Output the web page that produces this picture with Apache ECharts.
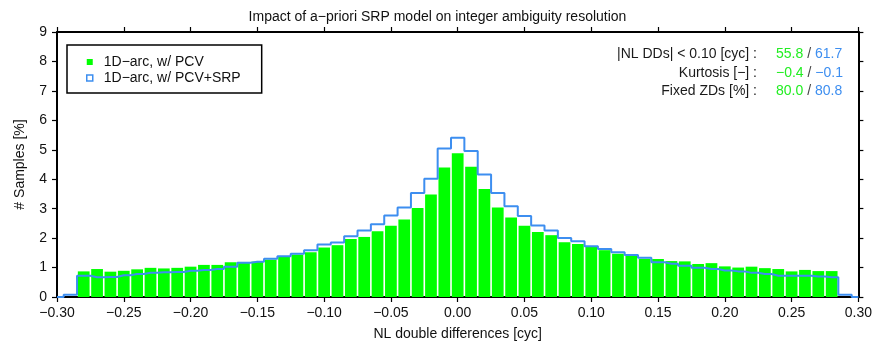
<!DOCTYPE html>
<html>
<head>
<meta charset="utf-8">
<script src="https://cdn.jsdelivr.net/npm/echarts@6/dist/echarts.min.js"></script>
<style>html,body{margin:0;padding:0;background:#fff}#c{width:875px;height:348px}</style>
</head>
<body>
<div id="c"></div>
<script>
// bin centres [cyc]
const binCenters = [-0.29,-0.28,-0.27,-0.26,-0.25,-0.24,-0.23,-0.22,-0.21,-0.20,
  -0.19,-0.18,-0.17,-0.16,-0.15,-0.14,-0.13,-0.12,-0.11,-0.10,
  -0.09,-0.08,-0.07,-0.06,-0.05,-0.04,-0.03,-0.02,-0.01,0.00,
  0.01,0.02,0.03,0.04,0.05,0.06,0.07,0.08,0.09,0.10,
  0.11,0.12,0.13,0.14,0.15,0.16,0.17,0.18,0.19,0.20,
  0.21,0.22,0.23,0.24,0.25,0.26,0.27,0.28,0.29];
const histRange = [-0.30, 0.30];
// # samples [%], 1D-arc w/ PCV
const pcv = [0,0.87,0.95,0.86,0.89,0.94,0.99,0.97,0.99,1.03,
  1.09,1.09,1.18,1.19,1.20,1.27,1.36,1.44,1.52,1.68,
  1.76,1.97,2.04,2.23,2.42,2.63,3.02,3.48,4.40,4.88,
  4.42,3.67,3.04,2.70,2.42,2.21,2.10,1.86,1.80,1.70,
  1.59,1.47,1.40,1.30,1.29,1.22,1.21,1.12,1.15,1.04,
  1.00,1.03,0.98,0.95,0.87,0.92,0.88,0.88,0];
// # samples [%], 1D-arc w/ PCV+SRP
const srp = [0.08,0.72,0.67,0.68,0.74,0.78,0.82,0.84,0.85,0.89,
  0.92,0.95,1.03,1.16,1.20,1.30,1.38,1.47,1.59,1.78,
  1.85,2.06,2.26,2.47,2.77,3.04,3.53,4.02,5.04,5.41,
  4.96,4.16,3.53,3.08,2.75,2.43,2.26,2.00,1.89,1.72,
  1.63,1.52,1.43,1.33,1.18,1.13,1.06,0.99,0.95,0.90,
  0.87,0.82,0.78,0.72,0.72,0.72,0.70,0.67,0.08];
const seriesNames = ['1D\u2212arc, w/ PCV', '1D\u2212arc, w/ PCV+SRP'];
const statLabels = ['|NL DDs| < 0.10 [cyc] :', 'Kurtosis [\u2212] :', 'Fixed ZDs [%] :'];
const statPCV = [55.8, -0.4, 80.0];
const statSRP = [61.7, -0.1, 80.8];

const GREEN = '#00ff00', BLUE = '#3d8ef0', FONT = "'Liberation Sans', Arial, sans-serif";
const fmtNum = (v, d) => { if (Math.abs(v) < 1e-9) v = 0; return (v < 0 ? '\u2212' : '') + Math.abs(v).toFixed(d); };

const barData = binCenters.map((c, i) => [c, pcv[i]]);
const lineData = [[histRange[0], 0]].concat(binCenters.map((c, i) => [c, srp[i]]), [[histRange[1], 0]]);

const frameLine = { show: true, onZero: false, lineStyle: { color: '#000', width: 2 } };
const frameTick = { show: true, inside: false, length: 5, lineStyle: { color: '#000', width: 1.2 } };
const xBase = { type: 'value', min: -0.3, max: 0.3, interval: 0.05, splitLine: { show: false }, axisLine: frameLine, axisTick: frameTick };
const yBase = { type: 'value', min: 0, max: 9, interval: 1, splitLine: { show: false }, axisLine: frameLine, axisTick: frameTick };

const graphics = [];
const rowsY = [54, 72.7, 91.2];
statLabels.forEach((t, i) => {
  graphics.push({ type: 'text', silent: true, style: { text: t, x: 757, y: rowsY[i], align: 'right', verticalAlign: 'middle', font: '14px ' + FONT, fill: '#1a1a1a' } });
  graphics.push({ type: 'text', silent: true, style: {
    text: '{g|' + fmtNum(statPCV[i], 1) + '}{s| / }{b|' + fmtNum(statSRP[i], 1) + '}',
    x: 776, y: rowsY[i], align: 'left', verticalAlign: 'middle', font: '14px ' + FONT,
    rich: { g: { fill: '#22ee22', font: '14px ' + FONT }, s: { fill: '#444', font: '14px ' + FONT }, b: { fill: BLUE, font: '14px ' + FONT } } } });
});

const chart = echarts.init(document.getElementById('c'), null, { renderer: 'canvas' });
chart.setOption({
  animation: false,
  textStyle: { fontFamily: FONT },
  title: { text: 'Impact of a\u2212priori SRP model on integer ambiguity resolution', left: 'center', top: 5,
    textStyle: { fontFamily: FONT, fontSize: 14, fontWeight: 'normal', color: '#111' } },
  grid: { left: 57, right: 13, top: 32, bottom: 51 },
  legend: {
    left: 67, top: 45, orient: 'vertical', selectedMode: false,
    backgroundColor: '#fff', borderColor: '#000', borderWidth: 1.5,
    padding: [9, 21, 7, 19], itemWidth: 6, itemHeight: 6, itemGap: 0,
    textStyle: { fontFamily: FONT, fontSize: 14, color: '#111', lineHeight: 16, padding: [0, 0, 0, 6] },
    data: [
      { name: seriesNames[0], icon: 'rect', itemStyle: { color: GREEN, borderWidth: 0 } },
      { name: seriesNames[1], icon: 'rect', itemStyle: { color: '#fff', borderColor: BLUE, borderWidth: 1.5 } }
    ]
  },
  xAxis: [
    Object.assign({}, xBase, { position: 'bottom', name: 'NL double differences [cyc]', nameLocation: 'middle', nameGap: 30,
      nameTextStyle: { fontSize: 14, color: '#111' },
      axisLabel: { show: true, margin: 9, fontSize: 14, color: '#111', showMinLabel: true, showMaxLabel: true, formatter: v => fmtNum(v, 2) } }),
    Object.assign({}, xBase, { position: 'top', axisLabel: { show: false } })
  ],
  yAxis: [
    Object.assign({}, yBase, { position: 'left', name: '# Samples [%]', nameLocation: 'middle', nameGap: 30,
      nameTextStyle: { fontSize: 14, color: '#111' },
      axisLabel: { show: true, margin: 10, fontSize: 14, color: '#111', formatter: v => String(Math.round(v)) } }),
    Object.assign({}, yBase, { position: 'right', axisLabel: { show: false } })
  ],
  series: [
    { name: seriesNames[0], type: 'bar', xAxisIndex: 0, yAxisIndex: 0, data: barData,
      barCategoryGap: '12%', itemStyle: { color: GREEN }, z: 2 },
    { name: seriesNames[1], type: 'line', xAxisIndex: 0, yAxisIndex: 0, data: lineData, step: 'middle',
      symbol: 'none', lineStyle: { color: BLUE, width: 2 }, itemStyle: { color: BLUE }, z: 3 }
  ],
  graphic: graphics
});
</script>
</body>
</html>
